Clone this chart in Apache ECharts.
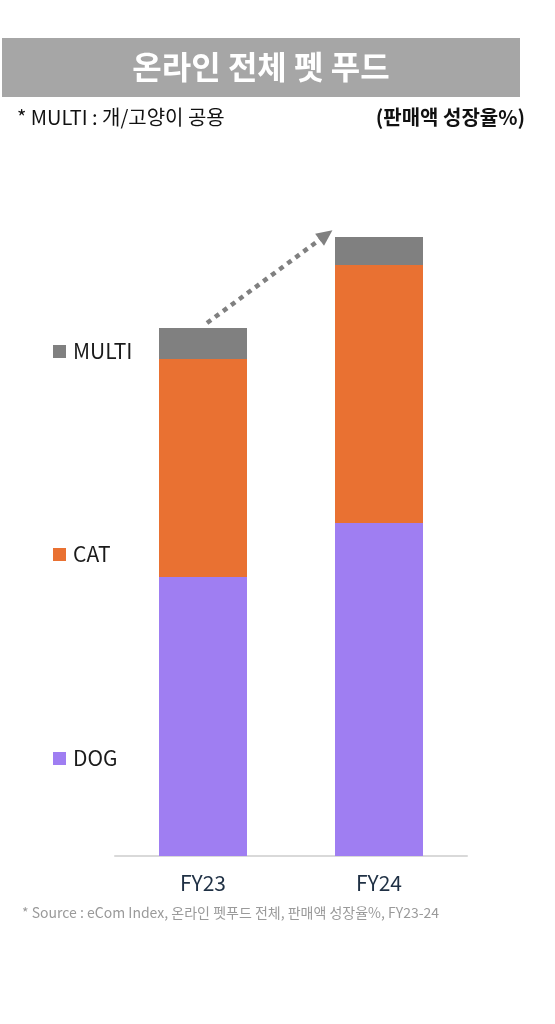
<!DOCTYPE html>
<html>
<head>
    <meta charset="utf-8" />
    <title>온라인 전체 펫 푸드</title>
    <style>
        html, body { margin: 0; padding: 0; background: #fff; }
        #chart { width: 555px; height: 1024px; }
    </style>
</head>
<body>
    <div id="chart"></div>
    <script src="https://cdn.jsdelivr.net/npm/echarts@6/dist/echarts.min.js"></script>
    <script>
        // 카테고리 / 시리즈 값 (그림에서 읽은 상대 크기)
        var years = ['FY23', 'FY24'];
        var seriesNames = ['DOG', 'CAT', 'MULTI'];
        var dogValues = [279, 333];
        var catValues = [218, 258];
        var multiValues = [31, 28];

        var colors = {
            DOG: '#9F7EF2',
            CAT: '#E97132',
            MULTI: '#808080'
        };
        var fontKr = '"Noto Sans CJK KR", "Noto Sans", sans-serif';

        var chart = echarts.init(document.getElementById('chart'));

        // 범례 한 줄씩 따로 배치
        function legendItem(name, top) {
            return {
                data: [name],
                orient: 'vertical',
                left: 48,
                top: top,
                icon: 'rect',
                itemWidth: 13,
                itemHeight: 13,
                itemGap: 0,
                selectedMode: false,
                textStyle: { color: '#1a1a1a', fontSize: 21, fontFamily: fontKr, padding: [0, 0, 0, 2] }
            };
        }

        var option = {
            backgroundColor: '#fff',
            animation: false,
            title: [
                {
                    text: '온라인 전체 펫 푸드',
                    left: 261, top: 51, textAlign: 'center', padding: 0,
                    textStyle: { color: '#fff', fontSize: 32, fontWeight: 'bold', fontFamily: fontKr }
                },
                {
                    text: '* MULTI : 개/고양이 공용',
                    left: 17, top: 107, padding: 0,
                    textStyle: { color: '#111', fontSize: 20, fontWeight: 'normal', fontFamily: fontKr }
                },
                {
                    text: '(판매액 성장율%)',
                    right: 30, top: 107, padding: 0,
                    textStyle: { color: '#111', fontSize: 20, fontWeight: 'bold', fontFamily: fontKr }
                },
                {
                    text: '* Source : eCom Index, 온라인 펫푸드 전체, 판매액 성장율%, FY23-24',
                    left: 22, top: 906, padding: 0,
                    textStyle: { color: '#9a9a9a', fontSize: 14, fontWeight: 'normal', fontFamily: fontKr }
                }
            ],
            graphic: [
                {
                    type: 'rect', z: -1,
                    shape: { x: 2, y: 38, width: 518, height: 59 },
                    style: { fill: '#A6A6A6' }
                }
            ],
            legend: [
                legendItem('MULTI', 336),
                legendItem('CAT', 539),
                legendItem('DOG', 743)
            ],
            grid: { left: 115, right: 88, top: 156, bottom: 168 },
            xAxis: {
                type: 'category',
                data: years,
                axisLine: { lineStyle: { color: '#d9d9d9', width: 2 } },
                axisTick: { show: false },
                axisLabel: { color: '#1F3044', fontSize: 21, margin: 17, fontFamily: fontKr }
            },
            yAxis: {
                type: 'value',
                min: 0, max: 700,
                show: false,
                splitLine: { show: false }
            },
            series: [
                {
                    name: 'DOG', type: 'bar', stack: 'total', barWidth: 88,
                    itemStyle: { color: colors.DOG },
                    data: dogValues
                },
                {
                    name: 'CAT', type: 'bar', stack: 'total',
                    itemStyle: { color: colors.CAT },
                    data: catValues
                },
                {
                    name: 'MULTI', type: 'bar', stack: 'total',
                    itemStyle: { color: colors.MULTI },
                    data: multiValues,
                    // 성장 화살표
                    markLine: {
                        silent: true,
                        symbol: ['none', 'triangle'],
                        symbolSize: [15, 16],
                        label: { show: false },
                        lineStyle: { color: '#808080', width: 4.5, type: [5, 5], opacity: 1 },
                        data: [[{ x: 207, y: 323 }, { x: 326, y: 235 }]]
                    }
                }
            ]
        };

        chart.setOption(option);
    </script>
</body>
</html>
